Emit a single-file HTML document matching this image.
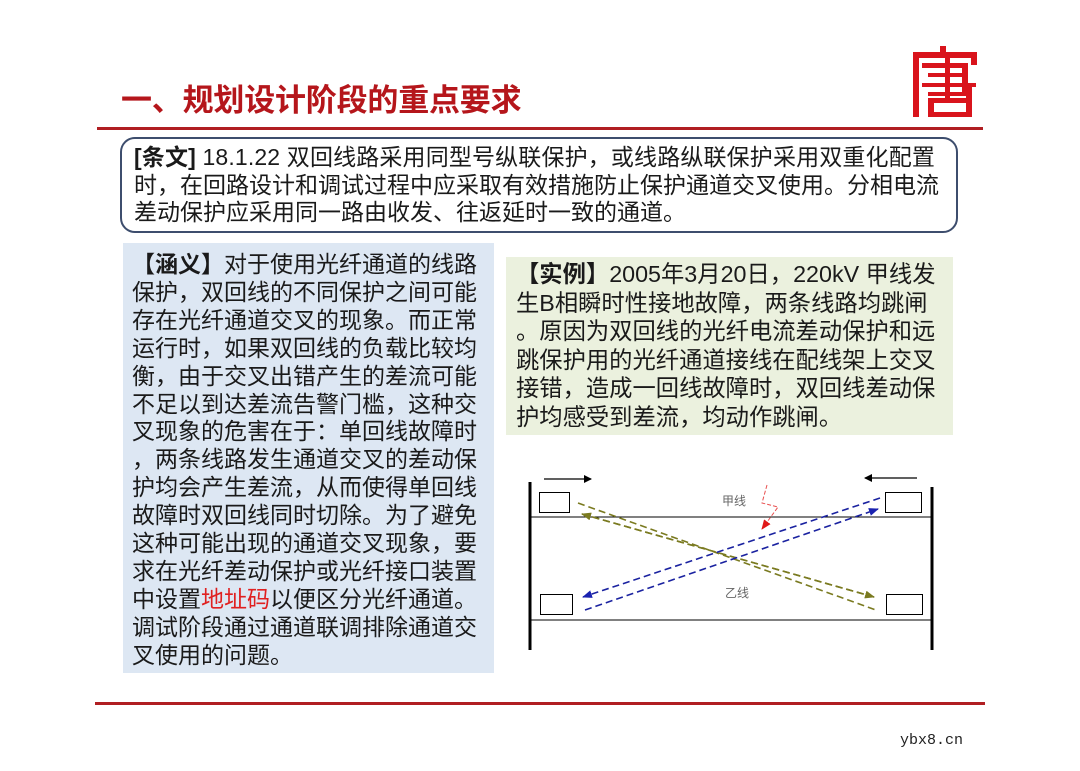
<!DOCTYPE html>
<html><head><meta charset="utf-8">
<style>
html,body{margin:0;padding:0;background:#fff;}
body{width:1080px;height:771px;position:relative;overflow:hidden;font-family:"Liberation Sans","Noto Sans CJK SC",sans-serif;color:#1a1a1a;}
.abs{position:absolute;}
.title{left:121px;top:81px;font-size:31px;font-weight:bold;color:#b5161b;line-height:40px;white-space:nowrap;letter-spacing:-0.2px;}
.rule{background:#b01e22;height:3px;}
.tiaowen{left:120px;top:137px;width:834px;height:92px;border:2px solid #3d4d6d;border-radius:15px;}
.tw{position:absolute;left:134px;font-size:23px;line-height:27px;white-space:nowrap;}
.lbox{left:123px;top:243px;width:371px;height:430px;background:#dde7f3;}
.rbox{left:506px;top:257px;width:447px;height:178px;background:#ebf1de;}
.ln{position:absolute;white-space:nowrap;}
.red{color:#e02020;}
</style></head>
<body>
<div class="abs title">一、规划设计阶段的重点要求</div>
<div class="abs rule" style="left:97px;top:127px;width:886px;"></div>

<svg class="abs" style="left:900px;top:40px" width="90" height="85" viewBox="900 40 90 85">
  <g fill="#d9141c">
    <rect x="940" y="46" width="6" height="7"/>
    <rect x="913" y="52" width="64" height="6"/>
    <rect x="913" y="52" width="6" height="65"/>
    <rect x="971" y="52" width="6" height="13"/>
    <rect x="922" y="63" width="46" height="5"/>
    <rect x="928" y="73" width="38" height="4"/>
    <rect x="922" y="83" width="54" height="4"/>
    <rect x="928" y="92" width="38" height="4"/>
    <rect x="945" y="58" width="5" height="40"/>
    <rect x="962" y="63" width="6" height="33"/>
    <rect x="928" y="98" width="44" height="5"/>
    <rect x="928" y="112" width="44" height="5"/>
    <rect x="928" y="98" width="6" height="19"/>
    <rect x="966" y="83" width="6" height="34"/>
  </g>
</svg>

<div class="abs tiaowen"></div>
<div class="tw" style="top:144px;letter-spacing:0.15px;"><b>[条文]</b> 18.1.22 双回线路采用同型号纵联保护，或线路纵联保护采用双重化配置</div>
<div class="tw" style="top:172px;">时，在回路设计和调试过程中应采取有效措施防止保护通道交叉使用。分相电流</div>
<div class="tw" style="top:199px;">差动保护应采用同一路由收发、往返延时一致的通道。</div>

<div class="abs lbox"></div>
<div class="abs" style="left:132px;top:251px;font-size:23px;line-height:27.9px;">
<div class="ln" style="top:0"><b>【涵义】</b>对于使用光纤通道的线路</div>
<div class="ln" style="top:27.9px">保护，双回线的不同保护之间可能</div>
<div class="ln" style="top:55.8px">存在光纤通道交叉的现象。而正常</div>
<div class="ln" style="top:83.7px">运行时，如果双回线的负载比较均</div>
<div class="ln" style="top:111.6px">衡，由于交叉出错产生的差流可能</div>
<div class="ln" style="top:139.5px">不足以到达差流告警门槛，这种交</div>
<div class="ln" style="top:167.4px">叉现象的危害在于：单回线故障时</div>
<div class="ln" style="top:195.3px">，两条线路发生通道交叉的差动保</div>
<div class="ln" style="top:223.2px">护均会产生差流，从而使得单回线</div>
<div class="ln" style="top:251.1px">故障时双回线同时切除。为了避免</div>
<div class="ln" style="top:279px">这种可能出现的通道交叉现象，要</div>
<div class="ln" style="top:306.9px">求在光纤差动保护或光纤接口装置</div>
<div class="ln" style="top:334.8px">中设置<span class="red">地址码</span>以便区分光纤通道。</div>
<div class="ln" style="top:362.7px">调试阶段通过通道联调排除通道交</div>
<div class="ln" style="top:390.6px">叉使用的问题。</div>
</div>

<div class="abs rbox"></div>
<div class="abs" style="left:516px;top:260px;font-size:23.3px;line-height:28.6px;">
<div class="ln" style="top:0"><b>【实例】</b>2005年3月20日，220kV 甲线发</div>
<div class="ln" style="top:28.6px">生B相瞬时性接地故障，两条线路均跳闸</div>
<div class="ln" style="top:57.2px">。原因为双回线的光纤电流差动保护和远</div>
<div class="ln" style="top:85.8px">跳保护用的光纤通道接线在配线架上交叉</div>
<div class="ln" style="top:114.4px">接错，造成一回线故障时，双回线差动保</div>
<div class="ln" style="top:143px">护均感受到差流，均动作跳闸。</div>
</div>

<svg class="abs" style="left:0;top:0" width="1080" height="771">
  <defs>
    <marker id="ab" markerWidth="8" markerHeight="8" refX="7" refY="4" orient="auto" markerUnits="userSpaceOnUse"><path d="M0,0 L8,4 L0,8 Z" fill="#000"/></marker>
    <marker id="ao" markerWidth="10" markerHeight="8" refX="9" refY="4" orient="auto" markerUnits="userSpaceOnUse"><path d="M0,0 L10,4 L0,8 Z" fill="#7a7a20"/></marker>
    <marker id="abl" markerWidth="10" markerHeight="8" refX="9" refY="4" orient="auto" markerUnits="userSpaceOnUse"><path d="M0,0 L10,4 L0,8 Z" fill="#1a22b0"/></marker>
    <marker id="ar" markerWidth="10" markerHeight="8" refX="9" refY="4" orient="auto" markerUnits="userSpaceOnUse"><path d="M0,0 L10,4 L0,8 Z" fill="#e01818"/></marker>
  </defs>
  <line x1="530" y1="482" x2="530" y2="650" stroke="#000" stroke-width="3"/>
  <line x1="932" y1="487" x2="932" y2="650" stroke="#000" stroke-width="3"/>
  <line x1="530" y1="517" x2="932" y2="517" stroke="#000" stroke-width="1"/>
  <line x1="530" y1="620" x2="932" y2="620" stroke="#000" stroke-width="1"/>
  <rect x="539.5" y="492.5" width="30" height="20" fill="#fff" stroke="#000"/>
  <rect x="885.5" y="492.5" width="36" height="20" fill="#fff" stroke="#000"/>
  <rect x="540.5" y="594.5" width="32" height="20" fill="#fff" stroke="#000"/>
  <rect x="886.5" y="594.5" width="36" height="20" fill="#fff" stroke="#000"/>
  <line x1="544" y1="479" x2="591" y2="479" stroke="#000" stroke-width="1.2" marker-end="url(#ab)"/>
  <line x1="917" y1="478" x2="865" y2="478" stroke="#000" stroke-width="1.2" marker-end="url(#ab)"/>
  <text x="722" y="505" font-size="12" fill="#666" font-family="Liberation Sans, Noto Sans CJK SC, sans-serif">甲线</text>
  <text x="725" y="597" font-size="12" fill="#666" font-family="Liberation Sans, Noto Sans CJK SC, sans-serif">乙线</text>
  <g fill="none" stroke-dasharray="7,4" stroke-width="1.6">
    <line x1="578" y1="503" x2="876" y2="610" stroke="#7a7a20"/>
    <line x1="874" y1="597" x2="582" y2="514" stroke="#7a7a20" marker-end="url(#ao)"/>
    <line x1="582" y1="514" x2="874" y2="597" stroke="#7a7a20" marker-end="url(#ao)"/>
    <line x1="880" y1="498" x2="583" y2="597" stroke="#1a22a0" marker-end="url(#abl)"/>
    <line x1="585" y1="610" x2="878" y2="509" stroke="#1a22a0" marker-end="url(#abl)"/>
  </g>
  <polyline points="767,485 762,503 778,507 762,529" fill="none" stroke="#e85050" stroke-width="1" stroke-dasharray="4,2" marker-end="url(#ar)"/>
</svg>

<div class="abs rule" style="left:95px;top:702px;width:890px;"></div>
<div class="abs" style="left:900px;top:733px;font-family:'Liberation Mono',monospace;font-size:15px;color:#222;line-height:16px;">ybx8.cn</div>
</body></html>
